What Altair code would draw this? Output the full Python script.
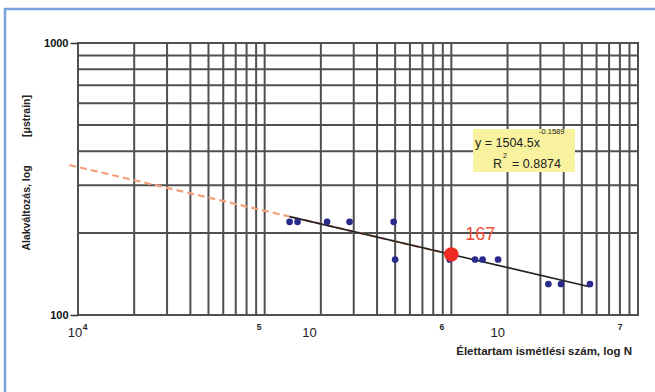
import altair as alt
import pandas as pd

# ---- data ----
cycles = [1.36e5, 1.50e5, 2.16e5, 2.85e5, 4.91e5, 5.0e5, 9.8e5, 1.34e6, 1.47e6, 1.78e6, 3.31e6, 3.87e6, 5.53e6]
strain = [220, 220, 220, 220, 220, 160, 160, 160, 160, 160, 130, 130, 130]

trend_x = [1.36e5, 5.5e6]        # solid fitted power line (ends)
trend_y = [230, 127]
ext_x = [8.98e3, 1.0e6]           # dashed extrapolation (ends)
ext_y = [356, 167]

design_N = [1.0e6]
design_strain = [167]
design_label = ["167"]

x_grid = [k * 10 ** e for e in (4, 5, 6) for k in range(1, 10)] + [1e7]
y_grid = [100, 200, 300, 400, 500, 600, 700, 800, 900, 1000]
y_ticks = [100, 1000]

# x tick labels as they appear (split base / exponent)
x_base_text = ["10", "10", "10"]
x_base_at = [9.64e3, 1.74e5, 1.773e6]
x_exp_text = ["4", "5", "6", "7"]
x_exp_at = [1.09e4, 9.35e4, 8.89e5, 8.02e6]

FONT = "Liberation Sans"
xs = alt.Scale(type="log", domain=[1e4, 1e7], nice=False)
ys = alt.Scale(type="log", domain=[100, 1000], nice=False)
yaxis = alt.Axis(values=y_ticks, format="d", grid=False, domain=False,
                 labelFont=FONT, labelFontWeight="bold", labelFontSize=11,
                 labelColor="#111", tickSize=8, tickColor="#333", tickWidth=1.5,
                 labelPadding=2, title=None)

xgrid = alt.Chart(pd.DataFrame({"v": x_grid})).mark_rule(color="#505050", strokeWidth=2).encode(
    x=alt.X("v:Q", scale=xs, axis=None))
ygrid = alt.Chart(pd.DataFrame({"v": y_grid})).mark_rule(color="#505050", strokeWidth=2).encode(
    y=alt.Y("v:Q", scale=ys, axis=yaxis))

ext = alt.Chart(pd.DataFrame({"x": ext_x, "y": ext_y})).mark_line(
    color="#F4A27C", strokeWidth=2.2, strokeDash=[7, 4], clip=False).encode(
    x=alt.X("x:Q", scale=xs, axis=None), y=alt.Y("y:Q", scale=ys, axis=yaxis))

trend = alt.Chart(pd.DataFrame({"x": trend_x, "y": trend_y})).mark_line(
    color="#222", strokeWidth=1.6).encode(
    x=alt.X("x:Q", scale=xs, axis=None), y=alt.Y("y:Q", scale=ys, axis=yaxis))

pts = alt.Chart(pd.DataFrame({"x": cycles, "y": strain})).mark_point(
    shape="circle", filled=True, size=45, color="#2A2A8C", opacity=1).encode(
    x=alt.X("x:Q", scale=xs, axis=None), y=alt.Y("y:Q", scale=ys, axis=yaxis))

ddf = pd.DataFrame({"x": design_N, "y": design_strain, "t": design_label})
red = alt.Chart(ddf).mark_point(shape="circle", filled=True, size=210, color="#EE2A22", opacity=1).encode(
    x=alt.X("x:Q", scale=xs, axis=None), y=alt.Y("y:Q", scale=ys, axis=yaxis))
red_lbl = alt.Chart(ddf).mark_text(font=FONT, fontSize=18, color="#F0503C", dx=29, dy=-19).encode(
    x=alt.X("x:Q", scale=xs, axis=None), y=alt.Y("y:Q", scale=ys, axis=yaxis), text="t:N")

base_lbl = alt.Chart(pd.DataFrame({"x": x_base_at, "t": x_base_text})).mark_text(
    font=FONT, fontSize=13, color="#222", baseline="middle").encode(
    x=alt.X("x:Q", scale=xs, axis=None), y=alt.value(290), text="t:N")
exp_lbl = alt.Chart(pd.DataFrame({"x": x_exp_at, "t": x_exp_text})).mark_text(
    font=FONT, fontSize=8.5, fontWeight="bold", color="#222", baseline="middle").encode(
    x=alt.X("x:Q", scale=xs, axis=None), y=alt.value(284), text="t:N")

one = pd.DataFrame({"a": [0]})
def txt(s, x, y, size, **kw):
    return alt.Chart(one).mark_text(text=s, font=FONT, fontSize=size, baseline="middle", **kw).encode(
        x=alt.value(x), y=alt.value(y))

box = alt.Chart(one).mark_rect(color="#F8F29E").encode(
    x=alt.value(395), x2=alt.value(497), y=alt.value(86), y2=alt.value(129))

eq = [
    txt("y = 1504.5x", 397, 100, 12.5, align="left", color="#222"),
    txt("-0.1589", 461, 89, 7.5, align="left", color="#222"),
    txt("R", 415, 121, 12.5, align="left", color="#222"),
    txt("2", 425, 113, 7, align="left", color="#222"),
    txt("= 0.8874", 434, 121, 12.5, align="left", color="#222"),
]

ytitle1 = txt("Alakváltozás, log", -51, 165, 10.5, angle=270, align="center",
              fontWeight="bold", color="#222")
ytitle2 = txt("[μstrain]", -51, 73, 10.5, angle=270, align="center",
              fontWeight="bold", color="#222")
xtitle = txt("Élettartam ismétlési szám, log N", 554, 309, 11.5, align="right",
             fontWeight="bold", color="#222")

border_top = alt.Chart(one).mark_rule(color="#79A2DE", strokeWidth=2.5).encode(
    x=alt.value(-73), x2=alt.value(600), y=alt.value(-34))
border_left = alt.Chart(one).mark_rule(color="#79A2DE", strokeWidth=2.5).encode(
    x=alt.value(-73), y=alt.value(-35), y2=alt.value(360))

chart = alt.layer(
    xgrid, ygrid, ext, trend, pts, red, red_lbl, box, *eq,
    base_lbl, exp_lbl, ytitle1, ytitle2, xtitle, border_top, border_left
).properties(
    width=560, height=272,
    padding={"left": 78, "top": 43, "right": 17, "bottom": 77},
    autosize=alt.AutoSizeParams(type="none"),
    background="white",
).configure_view(stroke="#333", strokeWidth=2)

chart.save("out.html", embed_options={"renderer": "svg", "actions": False})
